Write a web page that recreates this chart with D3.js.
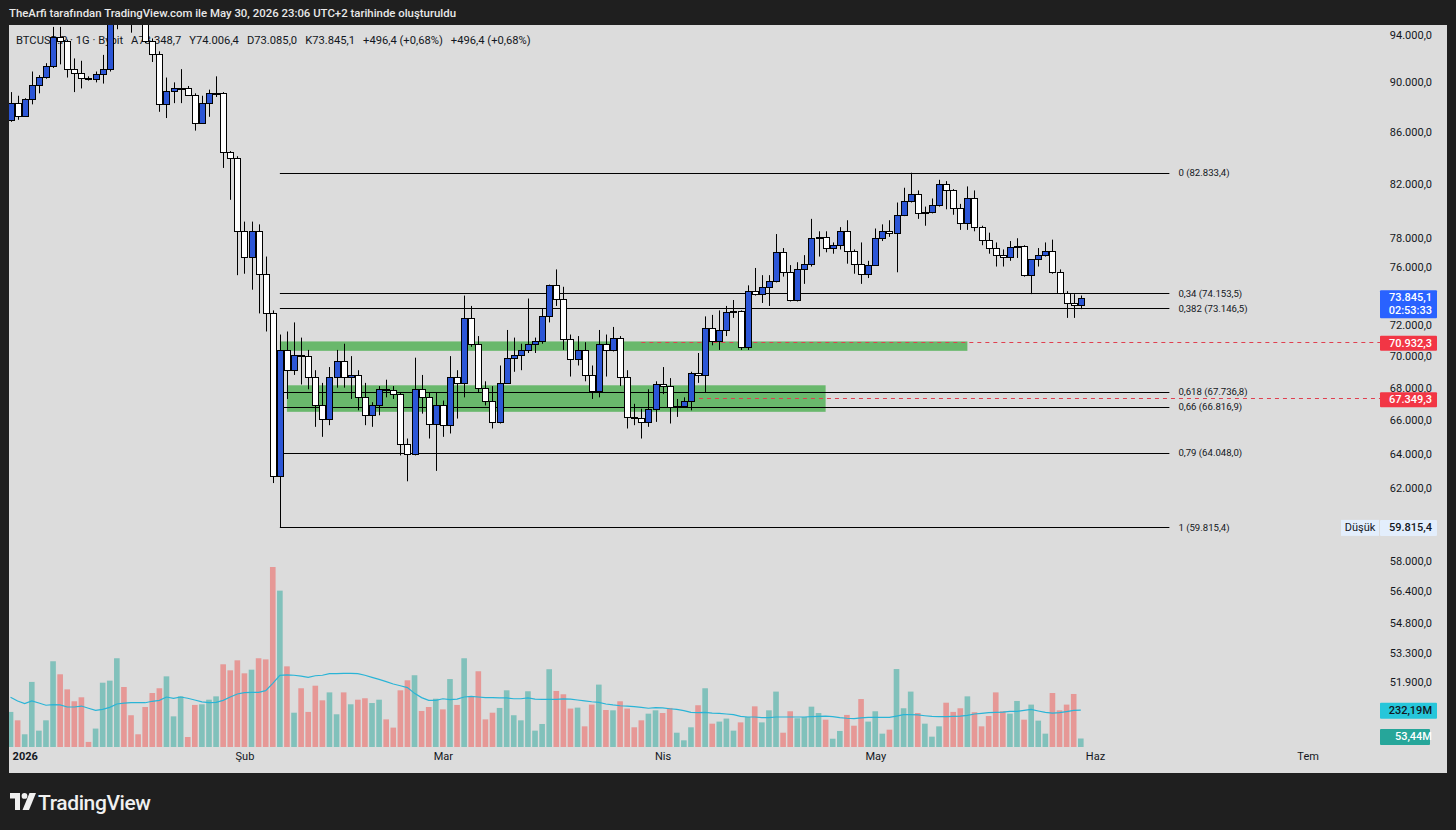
<!DOCTYPE html>
<html>
<head>
<meta charset="utf-8">
<script src="https://cdn.jsdelivr.net/npm/d3@7"></script>
<style>
  body { margin: 0; background: #1f1f1f; overflow: hidden; }
  svg { display: block; }
  text { font-family: Roboto, "Liberation Sans", sans-serif; }
</style>
</head>
<body>
<div id="chart"></div>
<script>
// BTCUSD.P daily candles, Bybit, 30 Dec 2025 -> 30 May 2026
const firstDay = "2025-12-30";

const opens = [
  86960, 88300,
  87300, 88600, 89800, 90450, 91360, 93800, 93500, 91100, 90800, 90350, 90300, 90700, 91100, 95400, 97000, 95600,
  95500, 95100, 93500, 92400, 88200, 89300, 89500, 89550, 89000, 86700, 88300, 89050, 89150, 84400, 84000,
  78500, 76700, 78500, 75500, 72800, 62700, 70400, 69100, 70100, 70000, 68700, 66900, 66100, 68700, 69700,
  68700, 68800, 67400, 66300, 66900, 67900, 67850, 67600, 64600, 64000, 67900, 67400, 65800,
  66900, 65700, 68700, 68300, 72500, 70800, 68000, 67200, 65900, 68300, 69900, 70100, 70400, 70800, 71000,
  72600, 74700, 73800, 71100, 69800, 70400, 68800, 67800, 70800, 70400, 71200, 68700, 66200, 66150, 65900, 66700,
  68200, 68100, 66800, 66850, 67200, 68900, 68800, 71800, 71000, 71700, 72900, 72950, 70600, 74300, 74100,
  74600, 75000, 77000, 75600, 73700, 75800, 76200, 78000, 78100, 77300, 77500, 78500, 77100, 76200, 75500,
  76100, 78000, 78500, 78400, 79700, 80700, 81200, 79800, 79900, 80400, 82000, 81500, 80200, 79100, 80900,
  78800, 77900, 77300, 76800, 76700, 77400, 77450, 75400, 76500, 76800, 77100, 75600, 74200, 73500, 73348.7
];
const highs = [
  89200, 88900,
  88700, 90900, 90600, 91600, 94700, 94700, 93600, 92000, 91800, 90500, 90900, 92300, 96400, 97900, 97300, 95800,
  95600, 95500, 93700, 92600, 90400, 90000, 91100, 89700, 89100, 88900, 89400, 90500, 89200, 84500, 84100,
  79200, 79200, 79000, 76700, 73000, 71400, 71600, 72200, 71200, 70400, 69100, 68300, 69300, 70400, 70800,
  70000, 69100, 68300, 67100, 68100, 68500, 68100, 67700, 64900, 69900, 68800, 67700, 67700,
  67200, 70000, 69100, 74000, 73300, 71300, 68400, 68100, 69400, 71700, 71200, 70800, 73800, 71200, 73100,
  74750, 75800, 74600, 71400, 71300, 70900, 69400, 71700, 71400, 71900, 71300, 69100, 67000, 66700, 67900, 68400,
  69300, 68600, 67300, 67400, 69000, 70200, 72600, 72700, 73000, 73300, 73700, 73000, 74700, 75900, 75400,
  75400, 78300, 77300, 76100, 76300, 76800, 79400, 78500, 78500, 77700, 78800, 79300, 77200, 77700, 76400,
  78700, 79000, 79300, 80600, 81700, 82833.4, 81500, 80300, 80900, 82300, 82200, 81600, 80500, 81800, 81500,
  78900, 78400, 77700, 77200, 77800, 78000, 77500, 76500, 77300, 77700, 77900, 75800, 74300, 74100, 74006.4
];
const lows = [
  86800, 86960,
  87200, 88200, 89100, 90300, 91200, 91500, 90400, 89200, 89500, 90150, 90000, 89900, 90900, 94500, 95100, 94200,
  95000, 93300, 91700, 87600, 87100, 88300, 88300, 88900, 86100, 86700, 87200, 88800, 83200, 80800, 75400,
  75500, 74400, 72800, 71600, 62300, 59815.4, 67300, 68800, 68200, 67900, 65600, 65000, 65700, 68000, 68000,
  67300, 66600, 65700, 65600, 66300, 67400, 67300, 63900, 62400, 63900, 66400, 64900, 63000,
  65000, 65200, 66100, 67400, 70600, 67700, 66900, 65500, 65800, 68300, 69000, 69100, 70200, 70200, 70800,
  72200, 73300, 70400, 68700, 69400, 68400, 67300, 67400, 68700, 70300, 68100, 65500, 65700, 64900, 65600, 65900,
  67600, 65800, 66200, 66800, 66600, 68300, 67700, 70700, 70400, 71300, 72500, 70400, 70400, 74000, 73500,
  73300, 74900, 75300, 73600, 73600, 74800, 76000, 76700, 77000, 76900, 77200, 76200, 75500, 74800, 75200,
  76100, 77800, 78100, 75600, 79600, 80600, 79400, 78900, 79800, 80300, 80100, 79700, 78600, 78600, 78500,
  77500, 76900, 76000, 76000, 76400, 76600, 75300, 74100, 76000, 76700, 75500, 74100, 72500, 72500, 73085.0
];
const closes = [
  88300, 87300,
  88600, 89800, 90450, 91360, 93800, 93500, 91100, 90800, 90350, 90300, 90700, 91100, 95400, 97000, 95600, 95500,
  95100, 93500, 92400, 88200, 89300, 89500, 89550, 89000, 86700, 88300, 89100, 89150, 84400, 84000, 78500,
  76700, 78500, 75500, 72800, 62700, 70400, 69100, 70100, 70000, 68700, 66900, 66100, 68700, 69700, 68700,
  68800, 67400, 66300, 66900, 67900, 67850, 67600, 64600, 64000, 67900, 67400, 65800, 66900,
  65700, 68700, 68300, 72500, 70800, 68000, 67200, 65900, 68300, 69900, 70100, 70400, 70800, 71000, 72600,
  74700, 73800, 71100, 69800, 70400, 68800, 67800, 70800, 70400, 71200, 68700, 66200, 66150, 65900, 66700, 68200,
  68100, 66800, 66850, 67200, 68900, 68800, 71800, 71000, 71700, 72900, 72950, 70600, 74300, 74100, 74600,
  75000, 77000, 75600, 73700, 75800, 76200, 78000, 78100, 77300, 77500, 78500, 77100, 76200, 75500, 76100,
  78000, 78500, 78400, 79700, 80700, 81200, 79800, 79900, 80400, 82000, 81500, 80200, 79100, 80900, 78800,
  77900, 77300, 76800, 76700, 77400, 77450, 75400, 76500, 76800, 77100, 75600, 74200, 73500, 73348.7, 73845.1
];

const volumes = [
  221, 168,
  80, 410, 103, 168, 540, 458, 363, 288, 313, 32, 116, 405, 418, 559, 378, 200,
  80, 252, 340, 370, 445, 193, 319, 63, 265, 269, 298, 319, 521, 483, 546,
  464, 487, 559, 552, 1134, 985, 508, 216, 370, 221, 386, 294, 344, 206, 344,
  269, 298, 307, 277, 298, 174, 122, 357, 420, 452, 227, 252, 304,
  237, 428, 265, 559, 321, 477, 174, 216, 246, 357, 200, 168, 351, 103, 145,
  490, 353, 332, 242, 248, 130, 267, 393, 233, 231, 288, 242, 124, 168, 210, 231,
  214, 246, 90, 42, 124, 263, 370, 147, 160, 179, 103, 155, 189, 256, 155,
  231, 349, 90, 225, 181, 189, 254, 214, 172, 52, 101, 202, 134, 302, 160,
  225, 84, 109, 491, 244, 349, 214, 147, 65, 130, 279, 221, 244, 319, 219,
  130, 195, 344, 225, 210, 290, 172, 267, 166, 84, 340, 231, 267, 334, 53.44
];
const volumeMA = [
  313, 290,
  273, 290, 277, 263, 267, 265, 252, 252, 258, 244, 231, 237, 250, 271, 277, 279,
  279, 279, 288, 294, 315, 307, 315, 307, 296, 284, 279, 281, 294, 315, 334,
  342, 344, 344, 355, 401, 451, 454, 452, 447, 439, 449, 452, 462, 462, 464,
  464, 462, 452, 439, 426, 412, 397, 386, 374, 338, 311, 294, 294,
  304, 298, 302, 315, 319, 315, 311, 311, 309, 309, 304, 304, 309, 302, 300,
  300, 300, 303, 302, 296, 290, 285, 281, 271, 265, 260, 258, 254, 250, 244, 248,
  246, 241, 237, 229, 218, 216, 218, 214, 212, 208, 204, 193, 189, 189, 185,
  185, 189, 189, 189, 189, 189, 191, 193, 195, 191, 185, 181, 179, 183, 187,
  187, 187, 187, 195, 204, 204, 202, 197, 193, 191, 191, 193, 195, 199, 208,
  212, 216, 218, 220, 225, 225, 231, 237, 227, 218, 214, 216, 223, 231, 232.19
];

// price axis ticks and time axis ticks
const priceTicks = [94000, 90000, 86000, 82000, 78000, 76000, 72000, 70000, 68000, 66000, 64000, 62000, 60000,
  58000, 56400, 54800, 53300, 51900];
const monthTicks = ["2026-01-01", "2026-02-01", "2026-03-01", "2026-04-01", "2026-05-01", "2026-06-01", "2026-07-01"];
const monthLabels = ["2026", "Şub", "Mar", "Nis", "May", "Haz", "Tem"];

// fibonacci retracement (log) from 6 Feb low to 6 May high
const fibLevels = ["0", "0,34", "0,382", "0,618", "0,66", "0,79", "1"];
const fibPrices = [82833.4, 74153.5, 73146.5, 67736.8, 66816.9, 64048.0, 59815.4];
const fibStart = "2026-02-06", fibEnd = "2026-06-11T12:00:00Z";

// green support zones
const zoneFrom = ["2026-02-06", "2026-02-07"];
const zoneTo = ["2026-05-14", "2026-04-24"];
const zoneTop = [70950, 68150];
const zoneBottom = [70340, 66510];

// dashed alert lines
const alertPrices = [70932.3, 67349.3];
const alertFrom = ["2026-03-29", "2026-04-05"];

const lastPrice = 73845.1, countdown = "02:53:33", lowPrice = 59815.4;

const W = 1456, H = 830;
const panel = { left: 9, top: 25, right: 1447, bottom: 773 };
const plotRight = 1380;

const loc = d3.formatLocale({ decimal: ",", thousands: ".", grouping: [3], currency: ["", ""] });
const fmtPrice = loc.format(",.1f");
const fmtVol = v => loc.format(",.2f")(v) + "M";

const day0 = new Date(firstDay + "T00:00:00Z");
const bars = closes.map((c, i) => ({
  date: d3.utcDay.offset(day0, i),
  o: opens[i], h: highs[i], l: lows[i], c: c,
  v: volumes[i], ma: volumeMA[i]
}));

const x = d3.scaleUtc()
  .domain([new Date("2026-01-01T00:00:00Z"), new Date("2026-07-01T00:00:00Z")])
  .range([24.7, 1307.6]);
const y = d3.scaleLog().domain([94000, 51900]).range([35, 682]);
const yVol = d3.scaleLinear().domain([0, 1134]).range([747, 567]);
const dx = s => x(new Date(s.length > 10 ? s : s + "T00:00:00Z"));

const svg = d3.select("#chart").append("svg")
  .attr("width", W).attr("height", H);

svg.append("rect").attr("width", W).attr("height", H).attr("fill", "#1f1f1f");
svg.append("rect")
  .attr("x", panel.left).attr("y", panel.top)
  .attr("width", panel.right - panel.left).attr("height", panel.bottom - panel.top)
  .attr("fill", "#dcdcdc");

svg.append("text")
  .attr("x", 9).attr("y", 17)
  .attr("font-size", 11.4).attr("font-weight", 500).attr("fill", "#e8e8e8")
  .text("TheArfi tarafından TradingView.com ile May 30, 2026 23:06 UTC+2 tarihinde oluşturuldu");

svg.append("defs").append("clipPath").attr("id", "plot")
  .append("rect")
  .attr("x", panel.left).attr("y", panel.top)
  .attr("width", plotRight - panel.left).attr("height", panel.bottom - panel.top);

// legend line
const legend = svg.append("text")
  .attr("x", 16).attr("y", 43.5)
  .attr("font-size", 11.2).attr("fill", "#131722");
const legendParts = ["BTCUSD.P · 1G · Bybit", "A73.348,7", "Y74.006,4", "D73.085,0", "K73.845,1",
  "+496,4 (+0,68%)", "+496,4 (+0,68%)"];
legendParts.forEach((t, i) => legend.append("tspan").attr("dx", i ? 8 : 0).text(t));

const plot = svg.append("g").attr("clip-path", "url(#plot)");

// volume
plot.append("g").selectAll("rect")
  .data(bars)
  .join("rect")
  .attr("x", d => x(d.date) - 2.8)
  .attr("width", 5.6)
  .attr("y", d => yVol(d.v))
  .attr("height", d => yVol(0) - yVol(d.v))
  .attr("fill", d => d.c >= d.o ? "rgba(38,166,154,0.5)" : "rgba(239,83,80,0.5)");

plot.append("path")
  .datum(bars)
  .attr("fill", "none")
  .attr("stroke", "#2ab4d6")
  .attr("stroke-width", 1.2)
  .attr("d", d3.line().x(d => x(d.date)).y(d => yVol(d.ma)));

// zones
plot.append("g").selectAll("rect")
  .data(zoneTop)
  .join("rect")
  .attr("x", (d, i) => dx(zoneFrom[i]))
  .attr("width", (d, i) => dx(zoneTo[i]) - dx(zoneFrom[i]))
  .attr("y", (d, i) => y(zoneTop[i]))
  .attr("height", (d, i) => y(zoneBottom[i]) - y(zoneTop[i]))
  .attr("fill", "rgba(76,175,80,0.8)");

// fib lines
const fib = plot.append("g");
fib.selectAll("line")
  .data(fibPrices)
  .join("line")
  .attr("x1", dx(fibStart)).attr("x2", dx(fibEnd))
  .attr("y1", d => Math.round(y(d)) + 0.5).attr("y2", d => Math.round(y(d)) + 0.5)
  .attr("stroke", "#000").attr("stroke-width", 1);
fib.selectAll("text")
  .data(fibPrices)
  .join("text")
  .attr("x", dx(fibEnd) + 9)
  .attr("y", d => y(d) + 3.5)
  .attr("font-size", 9.6)
  .attr("fill", "#131722")
  .text((d, i) => `${fibLevels[i]} (${fmtPrice(d)})`);

// alert lines
plot.append("g").selectAll("line")
  .data(alertPrices)
  .join("line")
  .attr("x1", (d, i) => dx(alertFrom[i])).attr("x2", plotRight)
  .attr("y1", d => Math.round(y(d)) + 0.5).attr("y2", d => Math.round(y(d)) + 0.5)
  .attr("stroke", "#e04050").attr("stroke-width", 1)
  .attr("stroke-dasharray", "4 4");

// candles
const candle = plot.append("g").selectAll("g")
  .data(bars)
  .join("g");
candle.append("line")
  .attr("x1", d => Math.round(x(d.date)) + 0.5)
  .attr("x2", d => Math.round(x(d.date)) + 0.5)
  .attr("y1", d => y(d.h)).attr("y2", d => y(d.l))
  .attr("stroke", "#000");
candle.append("rect")
  .attr("x", d => Math.round(x(d.date)) - 2.5)
  .attr("width", 6)
  .attr("y", d => Math.round(y(Math.max(d.o, d.c))) + 0.5)
  .attr("height", d => Math.max(1, Math.round(y(Math.min(d.o, d.c))) - Math.round(y(Math.max(d.o, d.c)))))
  .attr("fill", d => d.c >= d.o ? "#2c56d6" : "#ffffff")
  .attr("stroke", "#000").attr("stroke-width", 1);

// price axis
const yAxis = svg.append("g")
  .attr("transform", `translate(1432,0)`)
  .call(d3.axisLeft(y).tickValues(priceTicks).tickFormat(fmtPrice).tickSize(0).tickPadding(0));
yAxis.select(".domain").remove();
yAxis.selectAll("text").attr("font-size", 11).attr("fill", "#131722")
  .attr("font-family", "Roboto, 'Liberation Sans', sans-serif");

// time axis
const xAxis = svg.append("g")
  .attr("transform", `translate(0,752)`)
  .call(d3.axisBottom(x).tickValues(monthTicks.map(s => new Date(s + "T00:00:00Z")))
    .tickFormat((d, i) => monthLabels[i]).tickSize(0).tickPadding(0));
xAxis.select(".domain").remove();
xAxis.selectAll("text").attr("font-size", 11).attr("fill", "#131722")
  .attr("font-family", "Roboto, 'Liberation Sans', sans-serif")
  .attr("font-weight", (d, i) => i === 0 ? 700 : 400);

// axis labels
function axisTag(yc, h, fill, lines, color, w) {
  const g = svg.append("g");
  g.append("rect").attr("x", 1380).attr("y", yc - h / 2).attr("width", w || 57).attr("height", h)
    .attr("fill", fill).attr("rx", 1);
  lines.forEach((t, i) => g.append("text")
    .attr("x", 1432).attr("y", yc - h / 2 + 11 + i * 13)
    .attr("text-anchor", "end").attr("font-size", 11).attr("font-weight", 500)
    .attr("fill", color).text(t));
  return g;
}

axisTag(y(lastPrice) + 6.5, 28, "#2962ff", [fmtPrice(lastPrice), countdown], "#ffffff");
alertPrices.forEach(p => axisTag(y(p) + 1.5, 15, "#f23645", [fmtPrice(p)], "#ffffff"));

const lowTag = axisTag(y(lowPrice) + 0.5, 16, "#e3eefc", [fmtPrice(lowPrice)], "#131722");
lowTag.append("rect").attr("x", 1341).attr("y", y(lowPrice) - 7.5).attr("width", 38).attr("height", 16)
  .attr("fill", "#e3eefc");
lowTag.append("text").attr("x", 1360).attr("y", y(lowPrice) + 4).attr("text-anchor", "middle")
  .attr("font-size", 11).attr("fill", "#131722").text("Düşük");

axisTag(yVol(volumeMA[volumeMA.length - 1]) + 0.5, 16, "#26c6da", [fmtVol(volumeMA[volumeMA.length - 1])], "#131722");
axisTag(yVol(volumes[volumes.length - 1]) - 1.5, 16, "#26a69a", [fmtVol(volumes[volumes.length - 1])], "#ffffff", 50);

// TradingView mark
const logo = svg.append("g").attr("transform", "translate(10,793)").attr("fill", "#f0f0f0");
logo.append("path").attr("d", "M0,0 H10 V17 H5 V5.5 H0 Z");
logo.append("circle").attr("cx", 14.5).attr("cy", 2.9).attr("r", 2.9);
logo.append("path").attr("d", "M19.5,0 H26 L19,17 H12.5 Z");
svg.append("text")
  .attr("x", 38).attr("y", 809.5)
  .attr("font-size", 21).attr("font-weight", 500).attr("fill", "#f0f0f0")
  .attr("letter-spacing", -0.4)
  .text("TradingView");
</script>
</body>
</html>
